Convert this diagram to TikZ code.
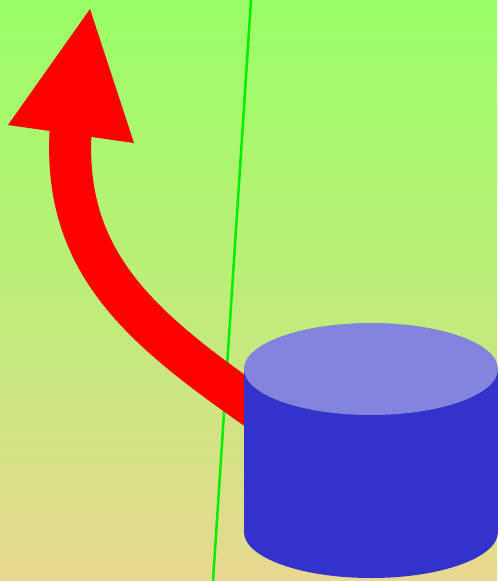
\documentclass[tikz,border=0pt]{standalone}
\usepackage{tikz}
\usetikzlibrary{shapes.geometric}
\definecolor{skytop}{RGB}{153,255,102}
\definecolor{sandbot}{RGB}{232,216,144}
\definecolor{canbody}{RGB}{51,51,204}
\definecolor{cantop}{RGB}{132,132,222}
\definecolor{poleline}{RGB}{0,238,0}
\begin{document}
\begin{tikzpicture}[x=0.02cm,y=-0.02cm]
\tikzstyle{flow}=[draw=red,line width=0.84cm,line cap=butt]
\tikzstyle{head}=[fill=red]
\tikzstyle{can}=[fill=canbody]
\tikzstyle{lid}=[fill=cantop]
% background
\shade[top color=skytop,bottom color=sandbot,middle color=skytop!55!sandbot,shading angle=0] (0,0) rectangle (497,581);
\useasboundingbox (0,0) rectangle (497,581);
\coordinate (poletop) at (251,0);
\coordinate (polebot) at (213,581);
\draw[poleline,line width=0.05cm] (poletop) -- (polebot);
% arrow
\coordinate (tail) at (290,432);
\coordinate (neck) at (71,125);
\draw[flow] (tail) .. controls (152,337) and (60,272) .. (neck);
\fill[head] (90,9) -- (8,125) -- (134,143) -- cycle;
% cylinder
\coordinate (lidc) at (371,369);
\coordinate (basec) at (371,532);
\path[can] (244,369) -- (244,532) arc[start angle=180,end angle=360,x radius=127,y radius=-46] -- (498,369) -- cycle;
\path[lid] (lidc) ellipse[x radius=127,y radius=46];
\end{tikzpicture}
\end{document}
